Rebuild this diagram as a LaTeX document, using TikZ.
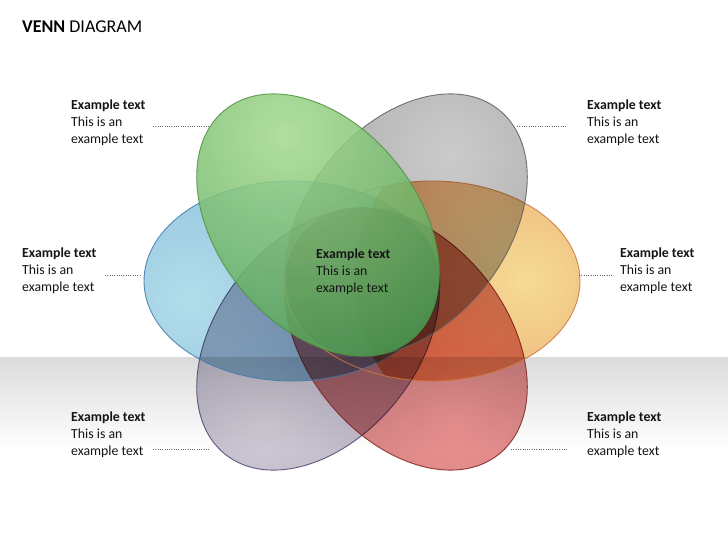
\documentclass[tikz,border=0pt]{standalone}
\usepackage{fontspec}
\setmainfont{Carlito}
\definecolor{gIn}{HTML}{A4DA8E}\definecolor{gOut}{HTML}{2C883C}\definecolor{gLine}{HTML}{4F8F3C}
\definecolor{grIn}{HTML}{C6C6C6}\definecolor{grOut}{HTML}{8C8C8C}\definecolor{grLine}{HTML}{5E5E5E}
\definecolor{bIn}{HTML}{AADAE9}\definecolor{bOut}{HTML}{6EA6CF}\definecolor{bLine}{HTML}{4479A8}
\definecolor{oIn}{HTML}{F4D98A}\definecolor{oOut}{HTML}{EC9A60}\definecolor{oLine}{HTML}{C97A3E}
\definecolor{pIn}{HTML}{CBC5D2}\definecolor{pOut}{HTML}{9A91A9}\definecolor{pLine}{HTML}{4E416E}
\definecolor{rIn}{HTML}{EA8686}\definecolor{rOut}{HTML}{B06262}\definecolor{rLine}{HTML}{7E2222}
% #1,#2 centre, #3 angle, #4,#5 highlight, #6 inner, #7 outer, #8 border, #9 extra style
\newcommand\venpetal[9]{%
  \begin{scope}[#9]
    \clip[rotate around={#3:(#1,#2)}] (#1,#2) ellipse [x radius=148, y radius=100];
    \shade[inner color=#6, outer color=#7] (#4,#5) circle [radius=\petalR];
  \end{scope}
  \draw[#8, line width=0.9pt, draw opacity=0.85, rotate around={#3:(#1,#2)}] (#1,#2) ellipse [x radius=148, y radius=100];
}
\newcommand\petalR{260}
\begin{document}
\begin{tikzpicture}[x=1pt,y=-1pt,
  lbl/.style={anchor=base west, inner sep=0pt, text=black!92, font=\fontsize{13.8}{17}\selectfont},
  leader/.style={draw=black!60, line width=0.9pt, dash pattern=on 0.9pt off 1.4pt},
  mult/.style={blend mode=multiply, fill opacity=0.9}]
\useasboundingbox (0,0) rectangle (728,546);
\fill[white] (0,0) rectangle (728,546);
\shade[top color=black!14, bottom color=white] (0,357) rectangle (728,450);

% petals
\venpetal{318}{339}{51}{265}{425}{pIn}{pOut}{pLine}{mult}
\venpetal{406}{339}{129}{455}{420}{rIn}{rOut}{rLine}{mult}
\venpetal{292}{281}{0}{190}{300}{bIn}{bOut}{bLine}{mult}
\renewcommand\petalR{170}
\venpetal{432}{281}{0}{525}{280}{oIn}{oOut}{oLine}{mult}
\renewcommand\petalR{260}
\venpetal{406}{225}{51}{450}{155}{grIn}{grOut}{grLine}{mult}
\begin{scope}
  \clip[rotate around={129:(318,225)}] (318,225) ellipse [x radius=148, y radius=100];
  \shade[inner color=gIn, outer color=gOut, fill opacity=0.86] (285,135) circle [radius=340];
\end{scope}
\draw[gLine, line width=0.9pt, draw opacity=0.85, rotate around={129:(318,225)}] (318,225) ellipse [x radius=148, y radius=100];

% title
\node[anchor=base west, inner sep=0pt, font=\fontsize{18}{21}\selectfont] (title) at (22,32) {\textbf{VENN} DIAGRAM};

% labels
\node[lbl] (tl) at (71,109) {\vtop{\hbox{\bfseries Example text}\hbox{This is an}\hbox{example text}}};
\node[lbl] (tr) at (587,109) {\vtop{\hbox{\bfseries Example text}\hbox{This is an}\hbox{example text}}};
\node[lbl] (ml) at (22,257.5) {\vtop{\hbox{\bfseries Example text}\hbox{This is an}\hbox{example text}}};
\node[lbl] (mr) at (620,257.5) {\vtop{\hbox{\bfseries Example text}\hbox{This is an}\hbox{example text}}};
\node[lbl] (ct) at (316,258) {\vtop{\hbox{\bfseries Example text}\hbox{This is an}\hbox{example text}}};
\node[lbl] (bl) at (71,421) {\vtop{\hbox{\bfseries Example text}\hbox{This is an}\hbox{example text}}};
\node[lbl] (br) at (587,421) {\vtop{\hbox{\bfseries Example text}\hbox{This is an}\hbox{example text}}};

% leaders
\coordinate (tlA) at (153,126); \coordinate (tlB) at (209,126);
\coordinate (trA) at (517,126); \coordinate (trB) at (567,126);
\coordinate (mlA) at (105,275); \coordinate (mlB) at (141,275);
\coordinate (mrA) at (579,275); \coordinate (mrB) at (612,275);
\coordinate (blA) at (153,449); \coordinate (blB) at (209,449);
\coordinate (brA) at (511,449); \coordinate (brB) at (567,449);
\draw[leader] (tlA) -- (tlB);
\draw[leader] (trA) -- (trB);
\draw[leader] (mlA) -- (mlB);
\draw[leader] (mrA) -- (mrB);
\draw[leader] (blA) -- (blB);
\draw[leader] (brA) -- (brB);
\end{tikzpicture}
\end{document}
